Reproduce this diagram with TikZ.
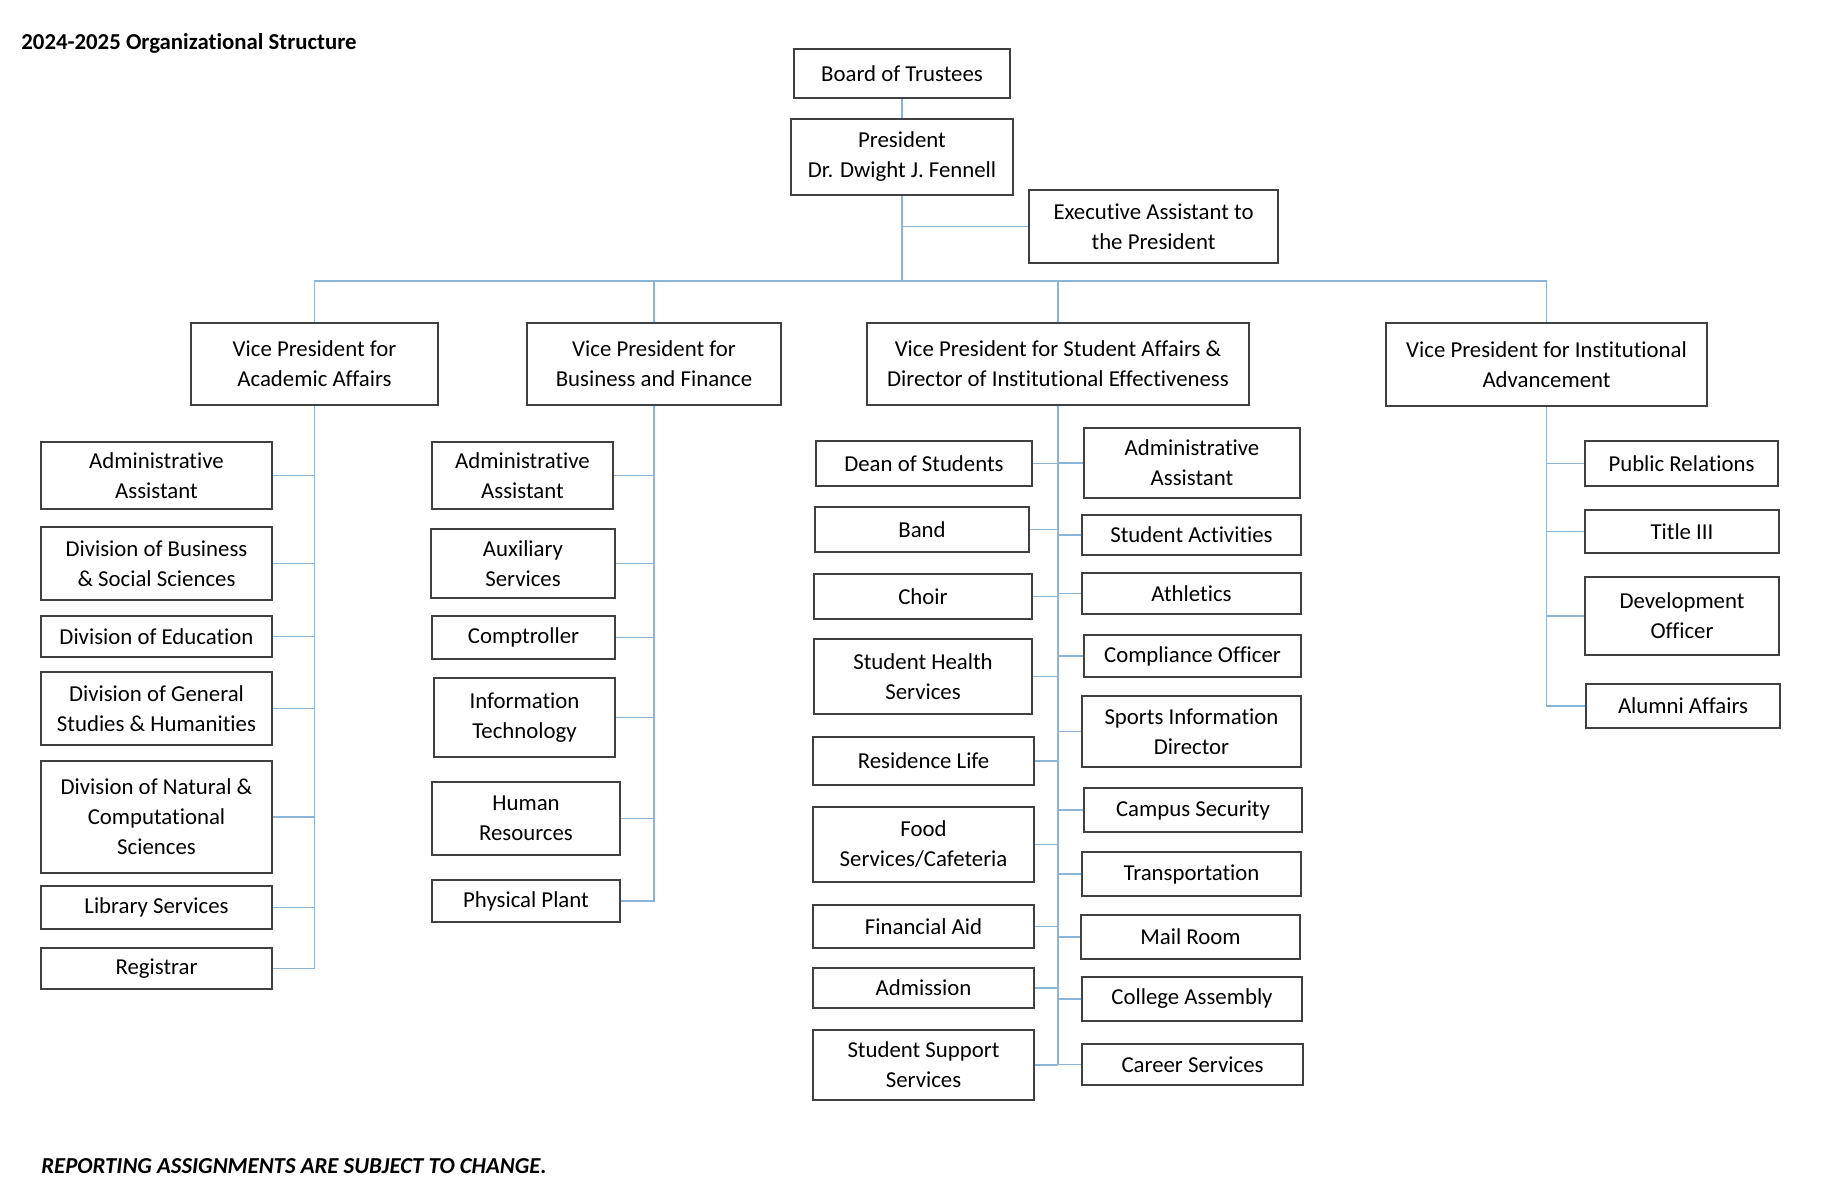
\documentclass[tikz,border=0pt]{standalone}
\usepackage{fontspec}
\setmainfont{Carlito}[Ligatures={NoCommon,NoContextual}]
\usepackage{tikz}
\usetikzlibrary{positioning,calc}
\definecolor{boxline}{RGB}{64,64,64}
\definecolor{linkblue}{RGB}{140,180,214}
\newcommand{\orgfont}{\fontsize{11.4}{15}\selectfont}
\tikzset{
  unit/.style={draw=boxline, line width=0.75pt, fill=white, align=center, inner sep=2pt, font=\orgfont},
  wh/.style 2 args={minimum width=#1*0.5pt, minimum height=#2*0.5pt},
  link/.style={draw=linkblue, line width=0.65pt},
  heading/.style={anchor=west, inner sep=0pt, font=\orgfont\bfseries}
}

\begin{document}
\begin{tikzpicture}[x=0.5pt, y=-0.5pt]
  \fill[white] (0,0) rectangle (1823,1200);
  \node[heading] (title) at (21,43) {2024-2025 Organizational Structure};
  \node[heading, font=\orgfont\bfseries\itshape] (note) at (41,1166) {REPORTING ASSIGNMENTS ARE SUBJECT TO CHANGE.};

  \node[unit, wh={216}{49}] (bot) at (902,73.5) {Board of Trustees};
  \node[unit, wh={222}{76}] (pres) at (902,157) {President\\Dr. Dwight J. Fennell};
  \node[unit, wh={249}{73}] (exec) at (1153.5,226.5) {Executive Assistant to\\the President};
  \coordinate (bus) at (902,281);

  \node[unit, wh={247}{82}] (vpaa) at (314.5,364) {Vice President for\\Academic Affairs};
  \node[unit, wh={254}{82}] (vpbf) at (654,364) {Vice President for\\Business and Finance};
  \node[unit, wh={382}{82}] (vpsa) at (1058,364) {Vice President for Student Affairs \&\\Director of Institutional Effectiveness};
  \node[unit, wh={321}{83}] (vpia) at (1546.5,364.5) {Vice President for Institutional\\Advancement};

  \node[unit, wh={231}{67}] (aa1) at (156.5,475.5) {Administrative\\Assistant};
  \node[unit, wh={231}{73}] (aa2) at (156.5,563.5) {Division of Business\\\& Social Sciences};
  \node[unit, wh={231}{41}] (aa3) at (156.5,636.5) {Division of Education};
  \node[unit, wh={231}{73}] (aa4) at (156.5,708.5) {Division of General\\Studies \& Humanities};
  \node[unit, wh={231}{112}] (aa5) at (156.5,817) {Division of Natural \&\\Computational\\Sciences};
  \node[unit, wh={231}{43}] (aa6) at (156.5,907.5) {Library Services};
  \node[unit, wh={231}{41}] (aa7) at (156.5,968.5) {Registrar};

  \node[unit, wh={181}{67}] (bf1) at (522.5,475.5) {Administrative\\Assistant};
  \node[unit, wh={184}{69}] (bf2) at (523,563.5) {Auxiliary\\Services};
  \node[unit, wh={183}{43}] (bf3) at (523.5,637.5) {Comptroller};
  \node[unit, wh={181}{79}] (bf4) at (524.5,717.5) {Information\\Technology};
  \node[unit, wh={188}{73}] (bf5) at (526,818.5) {Human\\Resources};
  \node[unit, wh={188}{42}] (bf6) at (526,901) {Physical Plant};

  \node[unit, wh={216}{45}] (sl1) at (924,463.5) {Dean of Students};
  \node[unit, wh={214}{45}] (sl2) at (922,529.5) {Band};
  \node[unit, wh={218}{45}] (sl3) at (923,596.5) {Choir};
  \node[unit, wh={218}{75}] (sl4) at (923,676.5) {Student Health\\Services};
  \node[unit, wh={221}{48}] (sl5) at (923.5,761) {Residence Life};
  \node[unit, wh={221}{75}] (sl6) at (923.5,844.5) {Food\\Services/Cafeteria};
  \node[unit, wh={221}{43}] (sl7) at (923.5,926.5) {Financial Aid};
  \node[unit, wh={221}{40}] (sl8) at (923.5,988) {Admission};
  \node[unit, wh={221}{70}] (sl9) at (923.5,1065) {Student Support\\Services};

  \node[unit, wh={216}{70}] (sr1) at (1192,463) {Administrative\\Assistant};
  \node[unit, wh={219}{40}] (sr2) at (1191.5,535) {Student Activities};
  \node[unit, wh={219}{41}] (sr3) at (1191.5,593.5) {Athletics};
  \node[unit, wh={217}{42}] (sr4) at (1192.5,656) {Compliance Officer};
  \node[unit, wh={219}{71}] (sr5) at (1191.5,731.5) {Sports Information\\Director};
  \node[unit, wh={218}{44}] (sr6) at (1193,810) {Campus Security};
  \node[unit, wh={219}{44}] (sr7) at (1191.5,874) {Transportation};
  \node[unit, wh={219}{44}] (sr8) at (1190.5,937) {Mail Room};
  \node[unit, wh={220}{44}] (sr9) at (1192,999) {College Assembly};
  \node[unit, wh={221}{41}] (sr10) at (1192.5,1064.5) {Career Services};

  \node[unit, wh={193}{45}] (ia1) at (1681.5,463.5) {Public Relations};
  \node[unit, wh={194}{43}] (ia2) at (1682,531.5) {Title III};
  \node[unit, wh={194}{78}] (ia3) at (1682,616) {Development\\Officer};
  \node[unit, wh={194}{44}] (ia4) at (1683,706) {Alumni Affairs};

  \draw[link] (bot) -- (pres);
  \draw[link] (pres.south) -- (bus);
  \draw[link] (exec.west) -- (exec.west -| bus);
  \draw[link] (vpaa.north) |- (bus -| vpia.north) -- (vpia.north);
  \draw[link] (vpbf.north) -- (vpbf.north |- bus);
  \draw[link] (vpsa.north) -- (vpsa.north |- bus);

  \draw[link] (vpaa.south) |- (aa7.east);
  \draw[link] (aa1.east) -- (aa1.east -| vpaa.south);
  \draw[link] (aa2.east) -- (aa2.east -| vpaa.south);
  \draw[link] (aa3.east) -- (aa3.east -| vpaa.south);
  \draw[link] (aa4.east) -- (aa4.east -| vpaa.south);
  \draw[link] (aa5.east) -- (aa5.east -| vpaa.south);
  \draw[link] (aa6.east) -- (aa6.east -| vpaa.south);

  \draw[link] (vpbf.south) |- (bf6.east);
  \draw[link] (bf1.east) -- (bf1.east -| vpbf.south);
  \draw[link] (bf2.east) -- (bf2.east -| vpbf.south);
  \draw[link] (bf3.east) -- (bf3.east -| vpbf.south);
  \draw[link] (bf4.east) -- (bf4.east -| vpbf.south);
  \draw[link] (bf5.east) -- (bf5.east -| vpbf.south);

  \draw[link] (vpsa.south) -- (vpsa.south |- sl9.east);
  \draw[link] (sl1.east) -- (sl1.east -| vpsa.south);
  \draw[link] (sl2.east) -- (sl2.east -| vpsa.south);
  \draw[link] (sl3.east) -- (sl3.east -| vpsa.south);
  \draw[link] (sl4.east) -- (sl4.east -| vpsa.south);
  \draw[link] (sl5.east) -- (sl5.east -| vpsa.south);
  \draw[link] (sl6.east) -- (sl6.east -| vpsa.south);
  \draw[link] (sl7.east) -- (sl7.east -| vpsa.south);
  \draw[link] (sl8.east) -- (sl8.east -| vpsa.south);
  \draw[link] (sl9.east) -- (sl9.east -| vpsa.south);
  \draw[link] (sr1.west) -- (sr1.west -| vpsa.south);
  \draw[link] (sr2.west) -- (sr2.west -| vpsa.south);
  \draw[link] (sr3.west) -- (sr3.west -| vpsa.south);
  \draw[link] (sr4.west) -- (sr4.west -| vpsa.south);
  \draw[link] (sr5.west) -- (sr5.west -| vpsa.south);
  \draw[link] (sr6.west) -- (sr6.west -| vpsa.south);
  \draw[link] (sr7.west) -- (sr7.west -| vpsa.south);
  \draw[link] (sr8.west) -- (sr8.west -| vpsa.south);
  \draw[link] (sr9.west) -- (sr9.west -| vpsa.south);
  \draw[link] (sr10.west) -- (sr10.west -| vpsa.south);

  \draw[link] (vpia.south) |- (ia4.west);
  \draw[link] (ia1.west) -- (ia1.west -| vpia.south);
  \draw[link] (ia2.west) -- (ia2.west -| vpia.south);
  \draw[link] (ia3.west) -- (ia3.west -| vpia.south);
\end{tikzpicture}
\end{document}
